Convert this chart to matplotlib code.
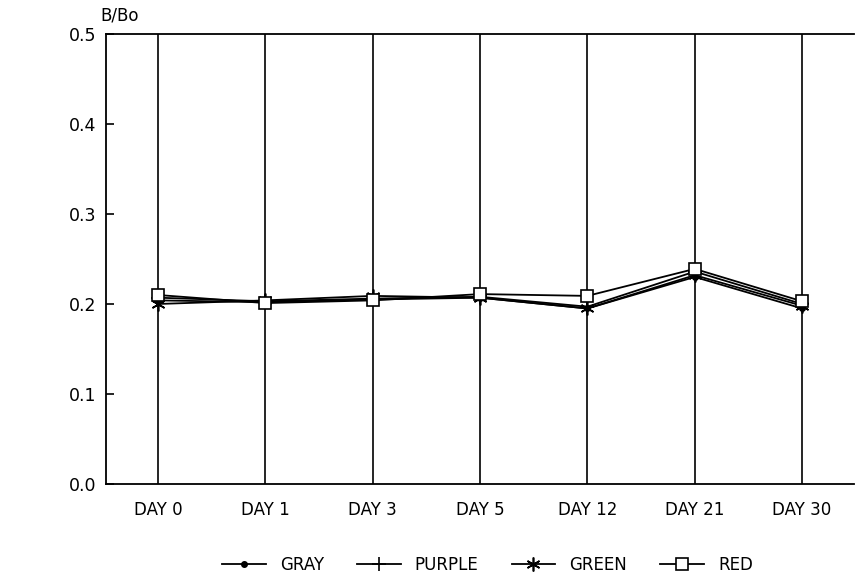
import numpy as np
import matplotlib.pyplot as plt

plt.rcParams["font.family"] = ["DejaVu Sans"]

# Ratio B/Bo per sampling day for each colour sample
DAYS = ["DAY 0", "DAY 1", "DAY 3", "DAY 5", "DAY 12", "DAY 21", "DAY 30"]
GRAY = [0.204, 0.202, 0.205, 0.207, 0.195, 0.230, 0.195]
PURPLE = [0.207, 0.203, 0.206, 0.208, 0.197, 0.236, 0.200]
GREEN = [0.200, 0.204, 0.209, 0.207, 0.195, 0.232, 0.198]
RED = [0.210, 0.201, 0.204, 0.211, 0.209, 0.239, 0.203]

Y_TICKS = [0.0, 0.1, 0.2, 0.3, 0.4, 0.5]


def main():
    fig = plt.figure(figsize=(8.56, 5.77), dpi=100)
    ax = fig.add_axes([0.1238, 0.1612, 0.874, 0.7799])

    x = np.arange(len(DAYS))

    # vertical guide line at every sampling day
    for xi in x:
        ax.axvline(xi, color="black", linewidth=1.2, zorder=1)

    style = dict(color="black", linewidth=1.3, zorder=3)
    ax.plot(x, GRAY, marker="o", markersize=4, label="GRAY", **style)
    ax.plot(x, PURPLE, marker="+", markersize=10, markeredgewidth=1.2,
            label="PURPLE", **style)
    ax.plot(x, GREEN, marker=(6, 2, 0), markersize=10, markeredgewidth=1.2,
            label="GREEN", **style)
    ax.plot(x, RED, marker="s", markersize=8, markerfacecolor="white",
            markeredgewidth=1.2, label="RED", **style)

    ax.set_xlim(-0.4845, 6.4845)
    ax.set_ylim(0, 0.5)
    ax.set_xticks(x)
    ax.set_xticklabels(DAYS)
    ax.set_yticks(Y_TICKS)
    ax.set_yticklabels([f"{v:.1f}" for v in Y_TICKS])

    ax.tick_params(axis="x", length=0, pad=12, labelsize=12)
    ax.tick_params(axis="y", direction="in", length=6, width=1.2,
                   pad=7, labelsize=12.5)

    for side in ["left", "bottom", "top"]:
        ax.spines[side].set_linewidth(1.3)
    ax.spines["right"].set_visible(False)

    fig.text(100 / 856, 1 - 15 / 577, "B/Bo", fontsize=12,
             ha="left", va="center")

    ax.legend(loc="center", bbox_to_anchor=(0.51, -0.18), ncol=4,
              frameon=False, fontsize=12, handlelength=2.6,
              columnspacing=2.0, handletextpad=0.85)

    fig.savefig("out.png", dpi=100)


if __name__ == "__main__":
    main()
